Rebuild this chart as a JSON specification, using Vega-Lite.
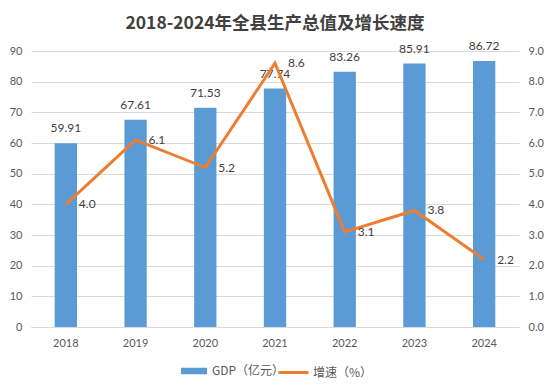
{
  "$schema": "https://vega.github.io/schema/vega-lite/v6.json",
  "width": 488,
  "height": 276,
  "autosize": "none",
  "padding": {"left": 31, "top": 51, "right": 34, "bottom": 64},
  "background": "white",
  "title": {
    "text": "2018-2024年全县生产总值及增长速度",
    "font": "Noto Sans CJK SC",
    "fontSize": 17.5,
    "fontWeight": "bold",
    "color": "#404040",
    "anchor": "middle",
    "offset": 8
  },
  "config": {
    "view": {"stroke": null},
    "axis": {"labelFont": "Lato", "labelFontSize": 11, "labelColor": "#595959", "ticks": false, "domain": false, "title": null},
    "legend": {"labelFont": "Noto Sans CJK SC", "labelFontSize": 12, "labelColor": "#595959", "padding": 0}
  },
  "data": {
    "values": [
      {"year": "2018", "gdp": 59.91, "growth": 4.0},
      {"year": "2019", "gdp": 67.61, "growth": 6.1},
      {"year": "2020", "gdp": 71.53, "growth": 5.2},
      {"year": "2021", "gdp": 77.74, "growth": 8.6},
      {"year": "2022", "gdp": 83.26, "growth": 3.1},
      {"year": "2023", "gdp": 85.91, "growth": 3.8},
      {"year": "2024", "gdp": 86.72, "growth": 2.2}
    ]
  },
  "encoding": {
    "x": {
      "field": "year",
      "type": "ordinal",
      "scale": {"paddingInner": 0.68, "paddingOuter": 0.34},
      "axis": {"labelAngle": 0, "domain": true, "domainColor": "#D9D9D9", "labelPadding": 10}
    }
  },
  "layer": [
    {
      "encoding": {
        "y": {
          "field": "gdp",
          "type": "quantitative",
          "scale": {"domain": [0, 90]},
          "axis": {"values": [0, 10, 20, 30, 40, 50, 60, 70, 80, 90], "grid": true, "gridColor": "#D9D9D9", "labelPadding": 9}
        }
      },
      "layer": [
        {
          "mark": {"type": "bar"},
          "encoding": {
            "fill": {
              "datum": "GDP（亿元）",
              "type": "nominal",
              "scale": {"range": ["#5B9BD5"]},
              "legend": {
                "title": null,
                "orient": "none",
                "legendX": 150,
                "legendY": 307,
                "labelOffset": 5,
                "symbolType": "M-1,-0.25H1V0.25H-1Z",
                "symbolSize": 676,
                "symbolStrokeWidth": 0
              }
            }
          }
        },
        {
          "mark": {"type": "text", "baseline": "bottom", "dy": -8, "font": "Lato", "fontSize": 12, "color": "#404040"},
          "encoding": {"text": {"field": "gdp", "type": "quantitative", "format": ".2f"}}
        }
      ]
    },
    {
      "encoding": {
        "y": {
          "field": "growth",
          "type": "quantitative",
          "scale": {"domain": [0, 9]},
          "axis": {"orient": "right", "values": [0, 1, 2, 3, 4, 5, 6, 7, 8, 9], "format": ".1f", "grid": false, "labelPadding": 9}
        }
      },
      "layer": [
        {
          "mark": {"type": "line", "strokeWidth": 3},
          "encoding": {
            "stroke": {
              "datum": "增速（%）",
              "type": "nominal",
              "scale": {"range": ["#ED7D31"]},
              "legend": {
                "title": null,
                "orient": "none",
                "legendX": 246,
                "legendY": 305,
                "labelOffset": 3,
                "symbolType": "stroke",
                "symbolSize": 900,
                "symbolStrokeWidth": 3
              }
            }
          }
        },
        {
          "mark": {"type": "text", "align": "left", "baseline": "middle", "dx": 13, "font": "Lato", "fontSize": 12, "color": "#404040"},
          "encoding": {"text": {"field": "growth", "type": "quantitative", "format": ".1f"}}
        }
      ]
    }
  ],
  "resolve": {"scale": {"y": "independent", "fill": "independent", "stroke": "independent"}}
}
